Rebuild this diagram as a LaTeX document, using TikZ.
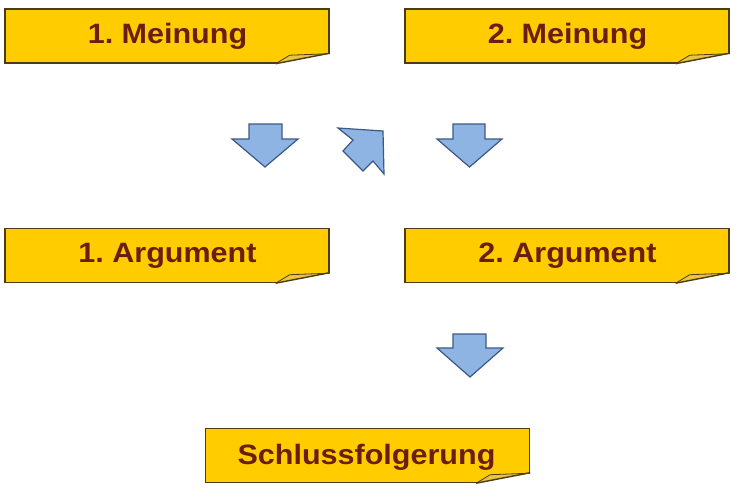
\documentclass[tikz,border=0pt]{standalone}
\usepackage{fontspec}
\usepackage{graphicx}
\setmainfont{Liberation Sans}
\frenchspacing
\usetikzlibrary{calc}
\definecolor{notegold}{RGB}{255,204,0}
\definecolor{noteflap}{RGB}{232,196,70}
\definecolor{noteedge}{RGB}{75,60,20}
\definecolor{notetext}{RGB}{108,30,14}
\definecolor{arrowfill}{RGB}{142,180,227}
\definecolor{arrowedge}{RGB}{60,88,135}
\tikzset{
  notebox/.style={rectangle, fill=notegold, draw=noteedge, line width=1.4pt,
    minimum width=324pt, minimum height=54pt, inner sep=0pt,
    text=notetext, font=\fontsize{28}{30}\selectfont\bfseries},
  notelabel/.style={anchor=base, inner sep=0pt, text=notetext,
    font=\fontsize{28}{30}\selectfont\bfseries},
  blockarrow/.style={fill=arrowfill, draw=arrowedge, line width=1.2pt, line join=miter},
  fold/.style={draw=noteedge, line width=0.8pt}
}
\newcommand{\notecurl}[1]{%
  \fill[white] ($(#1.south east)+(-54pt,0pt)$) -- ($(#1.south east)+(0pt,10pt)$)
     -- ($(#1.south east)+(3pt,10pt)$) -- ($(#1.south east)+(3pt,-3pt)$)
     -- ($(#1.south east)+(-54pt,-3pt)$) -- cycle;
  \filldraw[fill=noteflap, fold] ($(#1.south east)+(-54pt,0pt)$) -- ($(#1.south east)+(-40pt,8.5pt)$)
     -- ($(#1.south east)+(0pt,10pt)$);
  \draw[noteedge, line width=1.4pt, line join=round] ($(#1.south east)+(0pt,10.5pt)$)
     -- ($(#1.south east)+(-54pt,0pt)$);
}
\begin{document}
\begin{tikzpicture}[x=1pt,y=-1pt]
\useasboundingbox (0,0) rectangle (750,498);
% boxes
\node[notebox] (m1) at (167,36) {};
\node[notebox] (m2) at (567,36) {};
\node[notebox] (a1) at (167,255.5) {};
\node[notebox] (a2) at (567,255.5) {};
\node[notebox] (s) at (367.5,455.5) {};
\notecurl{m1}\notecurl{m2}\notecurl{a1}\notecurl{a2}\notecurl{s}
% labels
\node[notelabel] (tm1) at (167.5,43) {\scalebox{1.09}[1]{1. Meinung}};
\node[notelabel] (tm2) at (567.5,43) {\scalebox{1.09}[1]{2. Meinung}};
\node[notelabel] (ta1) at (167.5,262.5) {\scalebox{1.09}[1]{1. Argument}};
\node[notelabel] (ta2) at (567.5,262.5) {\scalebox{1.09}[1]{2. Argument}};
\node[notelabel] (ts) at (366.5,464) {\scalebox{1.09}[1]{Schlussfolgerung}};
% block arrows
\draw[blockarrow] (249,124) -- (282,124) -- (282,139) -- (298,139) -- (265,167)
  -- (232,139) -- (249,139) -- cycle;
\draw[blockarrow] (453,124) -- (485,124) -- (485,139) -- (502,139) -- (469.5,167)
  -- (437,139) -- (453,139) -- cycle;
\draw[blockarrow] (453,334) -- (486,334) -- (486,348) -- (503,348) -- (470,377)
  -- (437,348) -- (453,348) -- cycle;
\draw[blockarrow] (338,128) -- (383,131) -- (384,174) -- (373,161) -- (363,171)
  -- (343,151) -- (353,140) -- cycle;
\end{tikzpicture}
\end{document}
